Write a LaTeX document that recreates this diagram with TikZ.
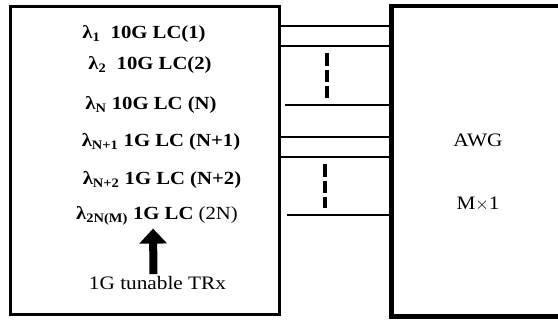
\documentclass[tikz,border=0pt]{standalone}
\usepackage{fontspec}
\setmainfont[FakeStretch=1.12]{Liberation Serif}
\usetikzlibrary{arrows.meta, positioning, calc}
\tikzset{
  box/.style={rectangle, draw, line width=3pt, inner sep=0pt},
  lbl/.style={font=\fontsize{18.5}{21}\selectfont\bfseries, inner sep=1pt},
  note/.style={font=\fontsize{19}{22}\selectfont, inner sep=1pt},
  fib/.style={line width=2.4pt},
  gap/.style={line width=4pt, dash pattern=on 12.5pt off 3.8pt},
  up/.style={-{Triangle[length=15pt, width=27pt]}, line width=8pt},
}

\begin{document}
\begin{tikzpicture}[x=1pt, y=-1pt]
  \useasboundingbox (0,0) rectangle (558,320);
  % transceiver bank and AWG
  \node[box, minimum width=269pt, minimum height=308.5pt] (trx) at (145,160.75) {};
  \node[box, line width=4.5pt, minimum width=220pt, minimum height=310.5pt] (awg) at (501.5,161.25) {};
  % line cards
  \node[lbl] (lc1) at (144,34) {λ\textsubscript{1}\ \ 10G LC(1)};
  \node[lbl] (lc2) at (150,65) {λ\textsubscript{2}\ \ 10G LC(2)};
  \node[lbl] (lcn) at (151,105) {λ\textsubscript{N} 10G LC (N)};
  \node[lbl] (lcn1) at (161,142) {λ\textsubscript{N+1} 1G LC (N+1)};
  \node[lbl] (lcn2) at (162,180) {λ\textsubscript{N+2} 1G LC (N+2)};
  \node[lbl] (lcm) at (157,216) {λ\textsubscript{2N(M)} 1G LC {\mdseries(2N)}};
  \node[note] (tun) at (157.5,283) {1G tunable TRx};
  \draw[up, shorten <=1pt, shorten >=2pt] ([xshift=-4pt]tun.north) -- ([xshift=-4pt]lcm.south);
  % AWG labels
  \node[note] (awgname) at (478,140) {AWG};
  \node[note, below=64pt of awgname.center, anchor=center] (awgsize) {M$\times$1};
  % fibres into the AWG
  \foreach \y in {26,46,137,157}
    \draw[fib] (trx.east |- 0,\y) -- (awg.west |- 0,\y);
  \draw[fib] ($(trx.east |- 0,105)+(4,0)$) -- (awg.west |- 0,105);
  \draw[fib] ($(trx.east |- 0,215)+(6,0)$) -- ($(awg.west |- 0,215)+(3,0)$);
  % dashed continuation
  \draw[gap] (327.3,53.3) -- (327.3,98.3);
  \draw[gap] (325.3,164.3) -- (325.3,208.3);
\end{tikzpicture}
\end{document}
